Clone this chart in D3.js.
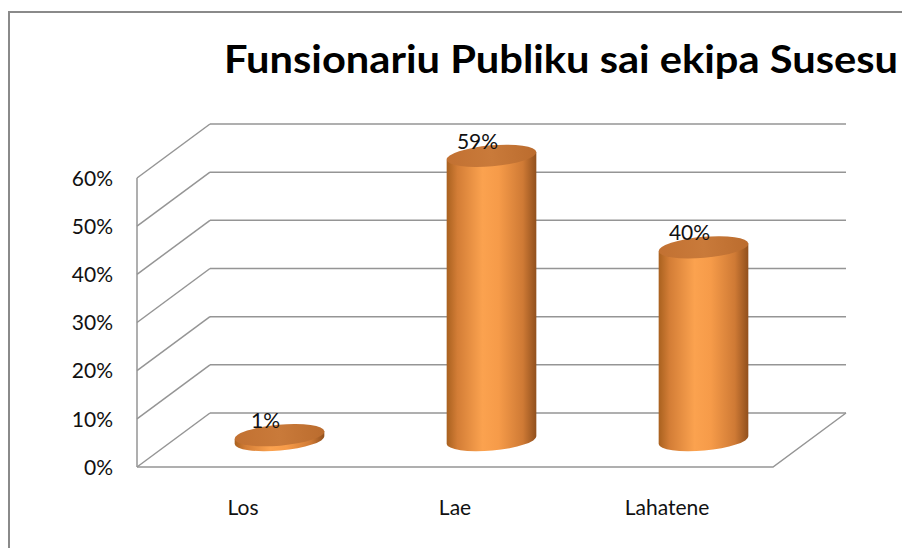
<!DOCTYPE html>
<html>
<head>
<meta charset="utf-8">
<script src="https://d3js.org/d3.v7.min.js"></script>
<style>
  body { margin: 0; background: #fff; }
  text { font-family: Lato, "Open Sans", sans-serif; }
</style>
</head>
<body>
<div id="chart"></div>
<script>
const categories = ['Los', 'Lae', 'Lahatene'];
const values = [0.01, 0.59, 0.40];
const ticks = [0, 0.1, 0.2, 0.3, 0.4, 0.5, 0.6];
const title = 'Funsionariu Publiku sai ekipa Susesu';

document.addEventListener('DOMContentLoaded', function() {
    const width = 902, height = 548;
    // Vorderkante des Bodens / Tiefenversatz der Rückwand
    const front = { left: 137, right: 773, bottom: 467, top: 178 };
    const depth = { dx: 73, dy: -54 };
    const rx = 45, ry = 10.5, tilt = -5;

    const svg = d3.select('#chart').append('svg')
        .attr('width', width)
        .attr('height', height);

    // Rahmen
    svg.append('rect')
        .attr('x', 9).attr('y', 12)
        .attr('width', 1000).attr('height', 1000)
        .attr('fill', 'none')
        .attr('stroke', '#8a8a8a')
        .attr('stroke-width', 2);

    const y = d3.scaleLinear().domain([0, 0.6]).range([front.bottom, front.top]);
    const x = d3.scaleBand().domain(categories).range([front.left, front.right]);

    const grid = svg.append('g')
        .attr('stroke', '#959595')
        .attr('stroke-width', 1.5)
        .attr('fill', 'none');

    // Rückwand
    grid.selectAll('line.back')
        .data(ticks)
        .enter().append('line')
        .attr('class', 'back')
        .attr('x1', front.left + depth.dx)
        .attr('x2', front.right + depth.dx)
        .attr('y1', d => y(d) + depth.dy)
        .attr('y2', d => y(d) + depth.dy);

    // Seitenwand
    grid.selectAll('line.side')
        .data(ticks)
        .enter().append('line')
        .attr('class', 'side')
        .attr('x1', front.left)
        .attr('x2', front.left + depth.dx)
        .attr('y1', d => y(d))
        .attr('y2', d => y(d) + depth.dy);

    grid.append('line')
        .attr('x1', front.left).attr('x2', front.left)
        .attr('y1', y(0.6)).attr('y2', y(0));

    // Boden
    grid.append('path')
        .attr('d', `M${front.left},${y(0)}L${front.right},${y(0)}L${front.right + depth.dx},${y(0) + depth.dy}`);

    // Achsenbeschriftung
    svg.append('g')
        .selectAll('text')
        .data(ticks)
        .enter().append('text')
        .attr('x', 113)
        .attr('y', d => y(d))
        .attr('dy', '0.37em')
        .attr('text-anchor', 'end')
        .style('font-size', '21px')
        .attr('fill', '#111')
        .text(d => d3.format('.0%')(d));

    svg.append('g')
        .selectAll('text')
        .data(categories)
        .enter().append('text')
        .attr('x', d => x(d) + x.bandwidth() / 2)
        .attr('y', 515)
        .attr('text-anchor', 'middle')
        .style('font-size', '21px')
        .attr('fill', '#111')
        .text(d => d);

    // Verläufe für die Zylinder
    const defs = svg.append('defs');
    const body = defs.append('linearGradient').attr('id', 'body')
        .attr('x1', '0%').attr('x2', '100%').attr('y1', '0%').attr('y2', '0%');
    [['0%', '#a9611f'], ['12%', '#d37d36'], ['40%', '#fba24f'], ['58%', '#f69b49'],
     ['85%', '#cf7a35'], ['100%', '#91501d']].forEach(s => {
        body.append('stop').attr('offset', s[0]).attr('stop-color', s[1]);
    });
    const cap = defs.append('linearGradient').attr('id', 'cap')
        .attr('x1', '0%').attr('x2', '100%').attr('y1', '0%').attr('y2', '0%');
    [['0%', '#c27132'], ['50%', '#c97a3a'], ['100%', '#bb6c2e']].forEach(s => {
        cap.append('stop').attr('offset', s[0]).attr('stop-color', s[1]);
    });

    const t = tilt * Math.PI / 180;
    const ex = rx * Math.cos(t), ey = rx * Math.sin(t);

    const bars = svg.append('g')
        .selectAll('g')
        .data(categories.map((c, i) => ({ name: c, value: values[i] })))
        .enter().append('g');

    const cxOf = d => x(d.name) + x.bandwidth() / 2 + depth.dx / 2;
    const baseOf = () => y(0) + depth.dy / 2;
    const topOf = d => y(d.value) + depth.dy / 2;

    bars.append('path')
        .attr('fill', 'url(#body)')
        .attr('d', d => {
            const cx = cxOf(d), b = baseOf(), tp = topOf(d);
            return `M${cx - ex},${tp - ey}L${cx - ex},${b - ey}` +
                `A${rx},${ry} ${tilt} 0 0 ${cx + ex},${b + ey}` +
                `L${cx + ex},${tp + ey}Z`;
        });

    bars.append('ellipse')
        .attr('cx', 0).attr('cy', 0)
        .attr('rx', rx).attr('ry', ry)
        .attr('fill', 'url(#cap)')
        .attr('transform', d => `translate(${cxOf(d)},${topOf(d)}) rotate(${tilt})`);

    bars.append('text')
        .attr('x', d => cxOf(d) - 14)
        .attr('y', d => topOf(d) - 7)
        .attr('text-anchor', 'middle')
        .style('font-size', '21px')
        .attr('fill', '#111')
        .text(d => d3.format('.0%')(d.value));

    // Titel (Breite wie im Original)
    svg.append('text')
        .attr('x', 224)
        .attr('y', 73)
        .style('font-size', '39px')
        .style('font-weight', 'bold')
        .attr('fill', '#000')
        .attr('textLength', 674)
        .attr('lengthAdjust', 'spacingAndGlyphs')
        .text(title);
});
</script>
</body>
</html>
